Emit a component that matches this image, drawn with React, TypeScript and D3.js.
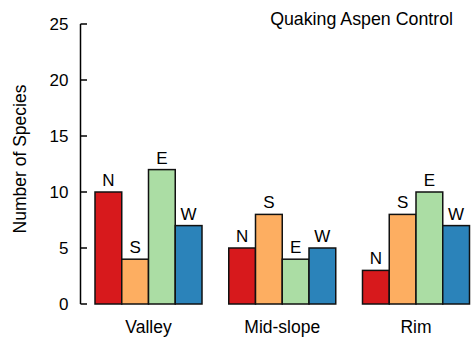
import React from "react";
import * as d3 from "d3";

const sites = ["Valley", "Mid-slope", "Rim"];
const aspects = ["N", "S", "E", "W"];
const valleyValues = [10, 4, 12, 7];
const midSlopeValues = [5, 8, 4, 5];
const rimValues = [3, 8, 10, 7];
const yTicks = [0, 5, 10, 15, 20, 25];
const colors = ["#d7191c", "#fdae61", "#abdda4", "#2b83ba"];
const title = "Quaking Aspen Control";
const yLabel = "Number of Species";

const W = 471;
const H = 343;
const font = "'Liberation Sans', Arial, Helvetica, sans-serif";

export default function App() {
  const seriesBySite = [valleyValues, midSlopeValues, rimValues];
  const x0 = d3.scaleBand<string>().domain(sites).range([95, 469.5]).paddingInner(0.2).paddingOuter(0);
  const x1 = d3.scaleBand<string>().domain(aspects).range([0, x0.bandwidth()]).padding(0);
  const y = d3.scaleLinear().domain([0, 25]).range([304, 24]);
  const color = d3.scaleOrdinal<string, string>().domain(aspects).range(colors);
  const axisX = 80.5;

  return (
    <svg width={W} height={H} style={{ position: "absolute", left: 0, top: 0, background: "#fff" }} fontFamily={font}>
      <rect width={W} height={H} fill="#fff" />
      {/* y axis */}
      <line x1={axisX} x2={axisX} y1={y(25)} y2={y(0)} stroke="#000" strokeWidth={1.5} />
      {yTicks.map((t) => (
        <g key={t}>
          <line x1={axisX} x2={axisX + 6.5} y1={y(t)} y2={y(t)} stroke="#000" strokeWidth={1.5} />
          <text x={68.5} y={y(t)} dy="0.36em" textAnchor="end" fontSize={17} fill="#000">
            {t}
          </text>
        </g>
      ))}
      <text
        transform={`translate(20,159) rotate(-90)`}
        textAnchor="middle"
        dy="0.36em"
        fontSize={17.5}
        fill="#000"
      >
        {yLabel}
      </text>
      {sites.map((s, i) => (
        <g key={s} transform={`translate(${x0(s)},0)`}>
          {aspects.map((a, j) => {
            const v = seriesBySite[i][j];
            const bx = x1(a)!;
            return (
              <g key={a}>
                <rect
                  x={bx}
                  y={y(v)}
                  width={x1.bandwidth()}
                  height={y(0) - y(v)}
                  fill={color(a)}
                  stroke="#111"
                  strokeWidth={1.5}
                />
                <text x={bx + x1.bandwidth() / 2} y={y(v) - 6} textAnchor="middle" fontSize={17} fill="#000">
                  {a}
                </text>
              </g>
            );
          })}
          <text x={x0.bandwidth() / 2} y={333} textAnchor="middle" fontSize={17.5} fill="#000">
            {s}
          </text>
        </g>
      ))}
      <text x={453} y={25} textAnchor="end" fontSize={17.8} fill="#000">
        {title}
      </text>
    </svg>
  );
}
